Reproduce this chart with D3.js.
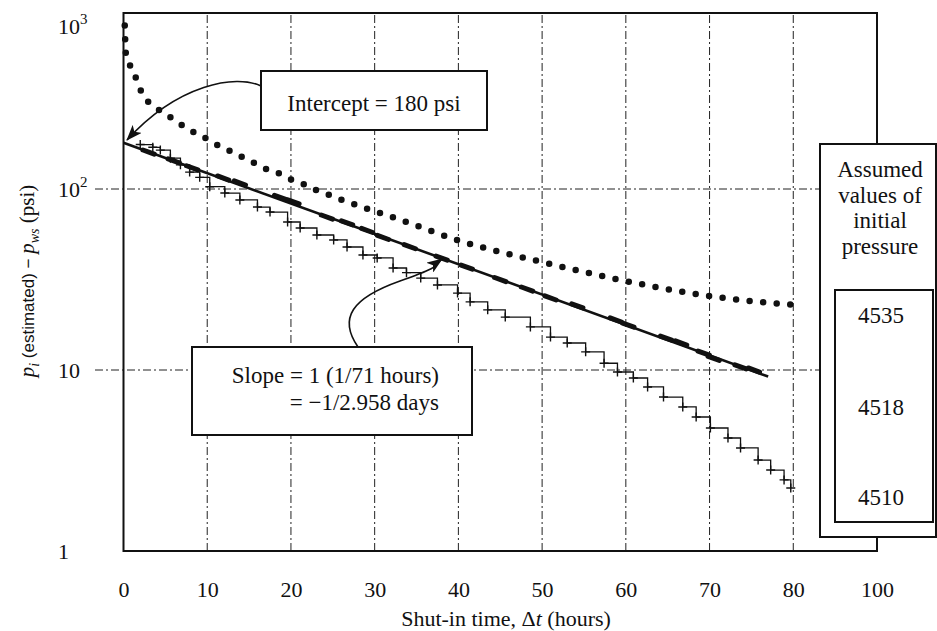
<!DOCTYPE html>
<html>
<head>
<meta charset="utf-8">
<script src="https://cdn.jsdelivr.net/npm/d3@7"></script>
<style>
  body { margin: 0; background: #fff; }
  svg { display: block; }
</style>
</head>
<body>
<svg id="chart" width="937" height="631"></svg>
<script>
  // ------------------------------------------------------------
  // Data
  // ------------------------------------------------------------
  const xTicks = [0, 10, 20, 30, 40, 50, 60, 70, 80, 90];
  const xTickLabels = ["0", "10", "20", "30", "40", "50", "60", "70", "80", "100"];
  const yTicks = [1, 10, 100, 1000];
  const yTickBase = ["1", "10", "10", "10"];
  const yTickExp = ["", "", "2", "3"];

  const assumedPressures = ["4535", "4518", "4510"];

  // p_i = 4535 psi (dotted curve)
  const dotTimes = [0.15, 0.3, 1.1, 2.4, 3.6, 5.0, 6.4, 7.7, 9.4, 10.7, 12.3, 13.7, 15.4, 16.7, 18.4,
    19.8, 21.4, 22.9, 24.5, 26.1, 27.7, 29.2, 30.9, 32.5, 40, 50, 60, 70, 80];
  const dotValues = [800, 550, 454, 326, 287, 260, 235, 214, 196, 180, 166, 154, 141, 131, 123,
    114, 107, 99, 93, 87, 82, 77.5, 73, 69, 52, 39.5, 31, 25.6, 22.9];

  // p_i = 4518 psi, straight-line fit and its points
  const fitTimes = [0, 77];
  const fitValues = [180, 9.2];
  const midTimes = [3, 6, 8.2, 11.9, 13.9, 18.7, 20.3, 24.3, 26.7, 29.1, 31.0, 34.2, 38.0, 41.0,
    45.0, 48.2, 51.0, 54.2, 58.8, 60.3, 64.8, 66.6, 69.3, 70.5, 73.7, 75.3];
  const midValues = [160, 143, 131, 115, 108, 90, 85, 70, 65, 59, 54, 48, 41.5, 37,
    31.6, 28, 25, 22.6, 18.9, 17.7, 15.0, 14.1, 12.4, 11.6, 10.4, 10.0];

  // p_i = 4510 psi (crosses)
  const crossTimes = [2.0, 3.5, 4.4, 5.6, 6.8, 7.9, 9.1, 10.3, 12.1, 13.9, 16.0, 17.5, 19.6, 21.1,
    23.1, 25.1, 26.7, 28.6, 30.3, 32.2, 33.8, 35.5, 37.5, 39.9, 41.4, 43.5, 45.6, 48.6, 51.0, 53.0,
    55.2, 57.4, 59.0, 60.9, 62.6, 64.5, 66.8, 68.4, 70.1, 72.2, 73.7, 75.8, 77.3, 78.9, 79.7];
  const crossValues = [176, 170, 164, 148, 136, 124, 116, 103, 95, 87, 79.5, 74.6, 65.7, 60.9,
    55.7, 52.3, 47.8, 43.2, 41.6, 36.6, 34.5, 32.2, 29.5, 26.6, 23.8, 21.5, 19.6, 17.3, 15.2, 14.1,
    12.6, 10.9, 9.75, 9.03, 8.06, 7.09, 6.25, 5.5, 4.78, 4.21, 3.71, 3.18, 2.8, 2.47, 2.23];

  // ------------------------------------------------------------
  // Layout
  // ------------------------------------------------------------
  const serif = "'Liberation Serif', 'Times New Roman', 'DejaVu Serif', serif";
  const sans = "'Liberation Sans', Arial, sans-serif";
  const svg = d3.select("#chart").attr("font-family", serif);
  const plotLeft = 123.5, plotRight = 877, plotTop = 13, plotBottom = 551;
  const x = d3.scaleLinear().domain([0, 90]).range([plotLeft, plotRight]);
  const y = d3.scaleLog().domain([1, 1000]).range([plotBottom, plotBottom - 3 * 181]);
  const grid = "8,3,2,3";

  function label(sel) {
    return sel.style("font-family", serif).attr("fill", "#111");
  }

  // gridlines
  const gridG = svg.append("g").attr("stroke", "#222").attr("stroke-width", 1)
    .attr("stroke-dasharray", grid).attr("fill", "none");
  xTicks.slice(1, -1).forEach(t => {
    gridG.append("line").attr("x1", x(t)).attr("x2", x(t)).attr("y1", plotBottom).attr("y2", plotTop);
  });
  [10, 100].forEach(v => {
    gridG.append("line").attr("x1", 95).attr("x2", plotRight).attr("y1", y(v)).attr("y2", y(v));
  });

  // axes (labels only, frame drawn separately)
  const xAxis = svg.append("g").attr("transform", `translate(0,${plotBottom})`)
    .call(d3.axisBottom(x).tickValues(xTicks).tickSize(0).tickPadding(30)
      .tickFormat((d, i) => xTickLabels[i]));
  xAxis.attr("font-family", null).attr("font-size", null);
  xAxis.select(".domain").remove();
  xAxis.selectAll("text").call(label).style("font-size", "22px");

  const yAxis = svg.append("g").attr("transform", `translate(${plotLeft},0)`)
    .call(d3.axisLeft(y).tickValues(yTicks).tickSize(0).tickFormat(() => ""));
  yAxis.attr("font-family", null).attr("font-size", null);
  yAxis.select(".domain").remove();
  yAxis.selectAll("text").each(function(d, i) {
    const t = d3.select(this).call(label)
      .attr("x", 58 - plotLeft).attr("text-anchor", "start").style("font-size", "22px");
    if (d === 1000) t.attr("y", 18);
    t.append("tspan").text(yTickBase[i]);
    if (yTickExp[i]) t.append("tspan").attr("dy", -10).style("font-size", "15px").text(yTickExp[i]);
  });

  // axis titles
  svg.append("text").call(label).attr("x", 506).attr("y", 626).attr("text-anchor", "middle")
    .style("font-size", "22px")
    .call(t => {
      t.append("tspan").text("Shut-in time, Δ");
      t.append("tspan").attr("font-style", "italic").text("t");
      t.append("tspan").text(" (hours)");
    });

  svg.append("text").call(label).attr("transform", "translate(34,281) rotate(-90)")
    .attr("text-anchor", "middle").style("font-size", "21px")
    .call(t => {
      t.append("tspan").attr("font-style", "italic").text("p");
      t.append("tspan").attr("font-style", "italic").style("font-size", "14px").attr("dy", 5).text("i");
      t.append("tspan").attr("dy", -5).style("font-family", sans)
        .style("font-size", "17px").text(" (estimated) − ");
      t.append("tspan").attr("font-style", "italic").text("p");
      t.append("tspan").attr("font-style", "italic").style("font-size", "14px").attr("dy", 5).text("ws");
      t.append("tspan").attr("dy", -5).text(" (psi)");
    });

  // ------------------------------------------------------------
  // Series
  // ------------------------------------------------------------
  const line = d3.line().x(d => x(d[0])).y(d => y(d[1]));

  // 4535: dotted curve
  svg.append("path")
    .datum(d3.zip(dotTimes, dotValues))
    .attr("d", line.curve(d3.curveMonotoneX))
    .attr("fill", "none").attr("stroke", "#111").attr("stroke-width", 6.5)
    .attr("stroke-linecap", "round").attr("stroke-dasharray", "0,13.6");

  // 4510: crosses joined in steps
  const crossData = d3.zip(crossTimes, crossValues);
  svg.append("path")
    .datum(crossData)
    .attr("d", d3.line().x(d => x(d[0])).y(d => y(d[1])).curve(d3.curveStepAfter))
    .attr("fill", "none").attr("stroke", "#111").attr("stroke-width", 1.3);
  svg.append("g").selectAll("path.cross").data(crossData).join("path")
    .attr("class", "cross")
    .attr("d", d => {
      const cx = x(d[0]), cy = y(d[1]), s = 4.5;
      return `M${cx - s},${cy}H${cx + s}M${cx},${cy - s}V${cy + s}`;
    })
    .attr("stroke", "#111").attr("stroke-width", 1.4);

  // 4518: straight line and its points
  const fit = d3.zip(fitTimes, fitValues);
  svg.append("path").datum(fit)
    .attr("d", d3.line().x(d => x(d[0])).y(d => y(d[1])))
    .attr("fill", "none").attr("stroke", "#111").attr("stroke-width", 2.6);
  const fdx = x(fitTimes[1]) - x(fitTimes[0]);
  const fdy = y(fitValues[1]) - y(fitValues[0]);
  const flen = Math.sqrt(fdx * fdx + fdy * fdy);
  const ux = fdx / flen, uy = fdy / flen;
  svg.append("g").selectAll("line").data(d3.zip(midTimes, midValues)).join("line")
    .attr("x1", d => x(d[0]) - ux * 6).attr("y1", d => y(d[1]) - uy * 6)
    .attr("x2", d => x(d[0]) + ux * 6).attr("y2", d => y(d[1]) + uy * 6)
    .attr("stroke", "#111").attr("stroke-width", 5).attr("stroke-linecap", "round");

  // ------------------------------------------------------------
  // Frame
  // ------------------------------------------------------------
  const frame = svg.append("g").attr("stroke", "#111").attr("stroke-width", 2).attr("fill", "none");
  frame.append("path").attr("d", `M${plotRight},144V${plotTop}H${plotLeft}V${plotBottom}H${plotRight}V537`);

  // ------------------------------------------------------------
  // Annotations
  // ------------------------------------------------------------
  const defs = svg.append("defs");
  defs.append("marker").attr("id", "head")
    .attr("viewBox", "0 0 16 12").attr("refX", 15).attr("refY", 6)
    .attr("markerWidth", 16).attr("markerHeight", 12).attr("markerUnits", "userSpaceOnUse")
    .attr("orient", "auto")
    .append("path").attr("d", "M0,0L16,6L0,12L4,6Z").attr("fill", "#111");

  svg.append("path").attr("d", "M261,86C236,74 178,84 127,140")
    .attr("fill", "none").attr("stroke", "#111").attr("stroke-width", 1.6)
    .attr("marker-end", "url(#head)");
  svg.append("path").attr("d", "M358,347C338,318 352,298 400,281S432,266 442,259")
    .attr("fill", "none").attr("stroke", "#111").attr("stroke-width", 1.6)
    .attr("marker-end", "url(#head)");

  svg.append("rect").attr("x", 261).attr("y", 71).attr("width", 226).attr("height", 59)
    .attr("fill", "#fff").attr("stroke", "#111").attr("stroke-width", 2);
  svg.append("text").call(label).attr("x", 374).attr("y", 111).attr("text-anchor", "middle")
    .style("font-size", "23px").text("Intercept = 180 psi");

  svg.append("rect").attr("x", 192).attr("y", 347).attr("width", 280).attr("height", 88)
    .attr("fill", "#fff").attr("stroke", "#111").attr("stroke-width", 2);
  svg.append("text").call(label).attr("x", 439).attr("y", 383).attr("text-anchor", "end")
    .style("font-size", "23px").text("Slope = 1 (1/71 hours)");
  svg.append("text").call(label).attr("x", 439).attr("y", 410).attr("text-anchor", "end")
    .style("font-size", "23px").text("= −1/2.958 days");

  // legend
  svg.append("rect").attr("x", 820).attr("y", 144).attr("width", 116).attr("height", 393)
    .attr("fill", "#fff").attr("stroke", "#111").attr("stroke-width", 2);
  svg.append("rect").attr("x", 835).attr("y", 290).attr("width", 98).attr("height", 232)
    .attr("fill", "#fff").attr("stroke", "#111").attr("stroke-width", 2);
  ["Assumed", "values of", "initial", "pressure"].forEach((s, i) => {
    svg.append("text").call(label).attr("x", 880).attr("y", 177 + i * 25.5)
      .attr("text-anchor", "middle").style("font-size", "23px").text(s);
  });
  const legendY = [323, 415, 505];
  assumedPressures.forEach((s, i) => {
    svg.append("text").call(label).attr("x", 881).attr("y", legendY[i])
      .attr("text-anchor", "middle").style("font-size", "23px").text(s);
  });
</script>
</body>
</html>
